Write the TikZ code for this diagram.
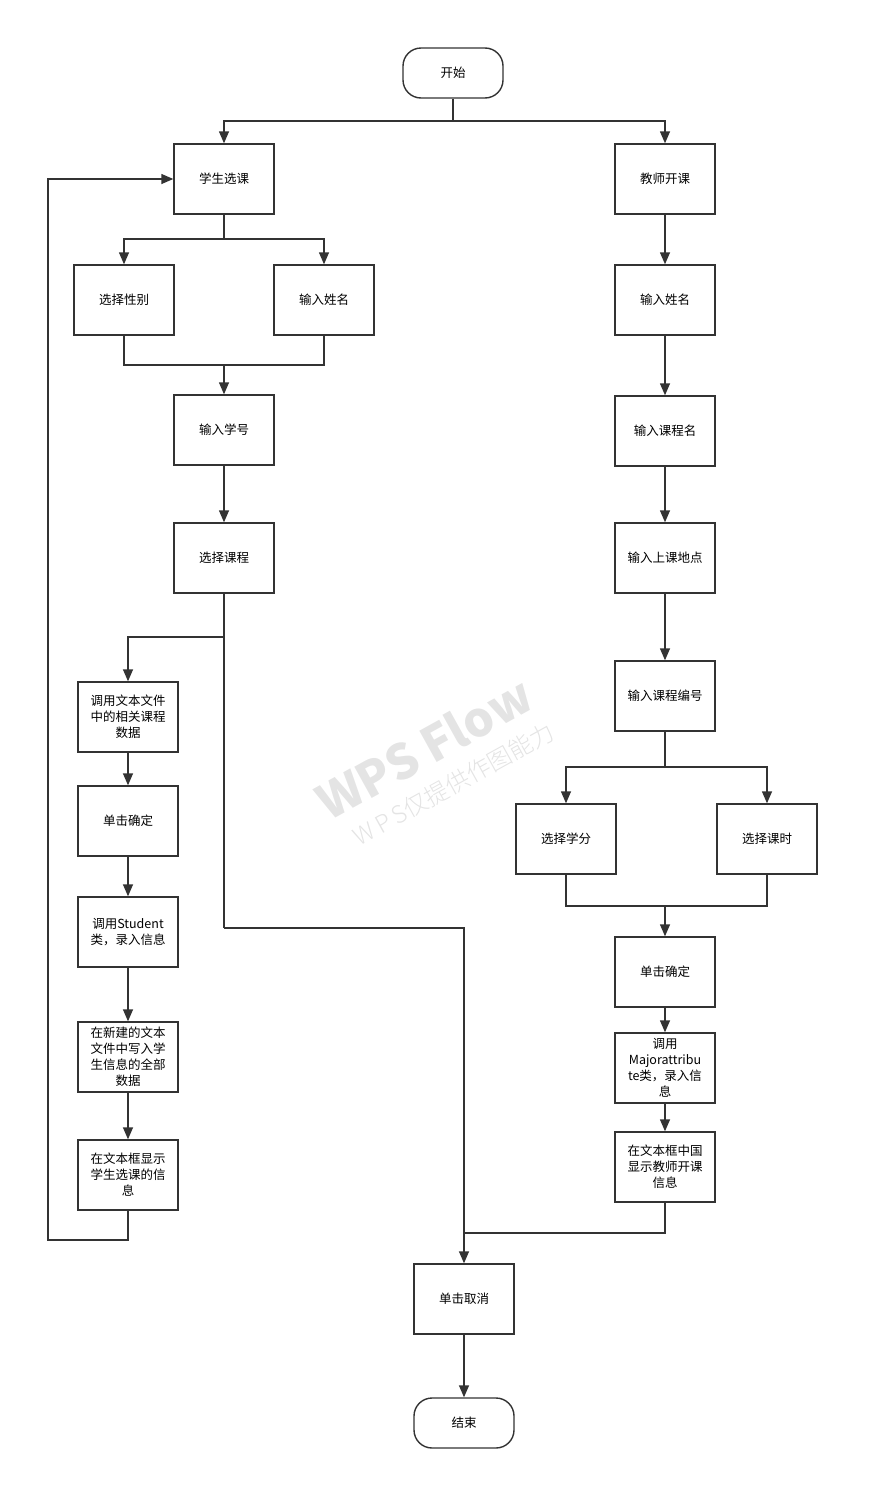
\documentclass[tikz,border=0pt]{standalone}
\usepackage{fontspec}
\usepackage{tikz}
\usetikzlibrary{shapes,arrows.meta,positioning}
\newfontfamily\cjk{Noto Sans CJK SC}
\newfontfamily\cjkthin{Noto Sans CJK SC Light}
\definecolor{ink}{HTML}{333333}
\definecolor{mark}{HTML}{E4E4E4}

\begin{document}
\begin{tikzpicture}[x=1pt,y=-1pt,
    box/.style={draw=ink, line width=1.4pt, minimum width=100pt, minimum height=70pt,
        text width=84pt, align=center, inner sep=0pt, font=\cjk\fontsize{12.5}{16}\selectfont},
    term/.style={box, rounded corners=18pt, minimum height=50pt},
    line/.style={draw=ink, line width=1.4pt},
    arr/.style={line, -{Triangle[length=12pt,width=10pt]}},
    wmark/.style={rotate=29, text=mark, inner sep=0pt}]
    \useasboundingbox (0,0) rectangle (879,1510);

    % watermark
    \node[wmark, font=\cjk\bfseries\fontsize{48}{48}\selectfont] (wm) at (424,748) {WPS Flow};
    \node[wmark, font=\cjkthin\fontsize{24}{24}\selectfont] (wmsub) at (454,784) {W\,P\,S仅提供作图能力};

    \node[term] (start) at (453,73) {开始};
    \node[box] (stu) at (224,179) {学生选课};
    \node[box] (tea) at (665,179) {教师开课};

    % student side
    \node[box] (sex) at (124,300) {选择性别};
    \node[box] (sname) at (324,300) {输入姓名};
    \node[box] (sid) at (224,430) {输入学号};
    \node[box] (course) at (224,558) {选择课程};
    \node[box] (readfile) at (128,717) {调用文本文件\\中的相关课程\\数据};
    \node[box] (sok) at (128,821) {单击确定};
    \node[box] (stuclass) at (128,932) {调用Student\\类，录入信息};
    \node[box] (write) at (128,1057) {在新建的文本\\文件中写入学\\生信息的全部\\数据};
    \node[box] (sshow) at (128,1175) {在文本框显示\\学生选课的信\\息};

    % teacher side
    \node[box] (tname) at (665,300) {输入姓名};
    \node[box] (cname) at (665,431) {输入课程名};
    \node[box] (place) at (665,558) {输入上课地点};
    \node[box] (cno) at (665,696) {输入课程编号};
    \node[box] (credit) at (566,839) {选择学分};
    \node[box] (hours) at (767,839) {选择课时};
    \node[box] (tok) at (665,972) {单击确定};
    \node[box] (major) at (665,1068) {调用\\Majorattribu\\te类，录入信\\息};
    \node[box] (tshow) at (665,1167) {在文本框中国\\显示教师开课\\信息};

    \node[box] (cancel) at (464,1299) {单击取消};
    \node[term] (stop) at (464,1423) {结束};

    % joints
    \coordinate (j0) at (453,121);
    \coordinate (j1) at (224,239);
    \coordinate (j2) at (224,365);
    \coordinate (j3) at (224,637);
    \coordinate (j4) at (224,928);
    \coordinate (j5) at (665,767);
    \coordinate (j6) at (665,906);
    \coordinate (j7) at (464,1233);
    \coordinate (back) at (48,1240);

    \draw[line] (start) -- (j0);
    \draw[arr] (j0) -| (stu);
    \draw[arr] (j0) -| (tea);

    \draw[line] (stu) -- (j1);
    \draw[arr] (j1) -| (sex);
    \draw[arr] (j1) -| (sname);
    \draw[line] (sex) |- (j2) -| (sname);
    \draw[arr] (j2) -- (sid);
    \draw[arr] (sid) -- (course);
    \draw[line] (course) -- (j3);
    \draw[arr] (j3) -| (readfile);
    \draw[arr] (readfile) -- (sok);
    \draw[arr] (sok) -- (stuclass);
    \draw[arr] (stuclass) -- (write);
    \draw[arr] (write) -- (sshow);
    \draw[arr] (sshow) |- (back) |- (stu);
    \draw[line] (j3) -- (j4);
    \draw[arr] (j4) -| (cancel);

    \draw[arr] (tea) -- (tname);
    \draw[arr] (tname) -- (cname);
    \draw[arr] (cname) -- (place);
    \draw[arr] (place) -- (cno);
    \draw[line] (cno) -- (j5);
    \draw[arr] (j5) -| (credit);
    \draw[arr] (j5) -| (hours);
    \draw[line] (credit) |- (j6) -| (hours);
    \draw[arr] (j6) -- (tok);
    \draw[arr] (tok) -- (major);
    \draw[arr] (major) -- (tshow);
    \draw[line] (tshow) |- (j7);

    \draw[arr] (cancel) -- (stop);
\end{tikzpicture}
\end{document}
